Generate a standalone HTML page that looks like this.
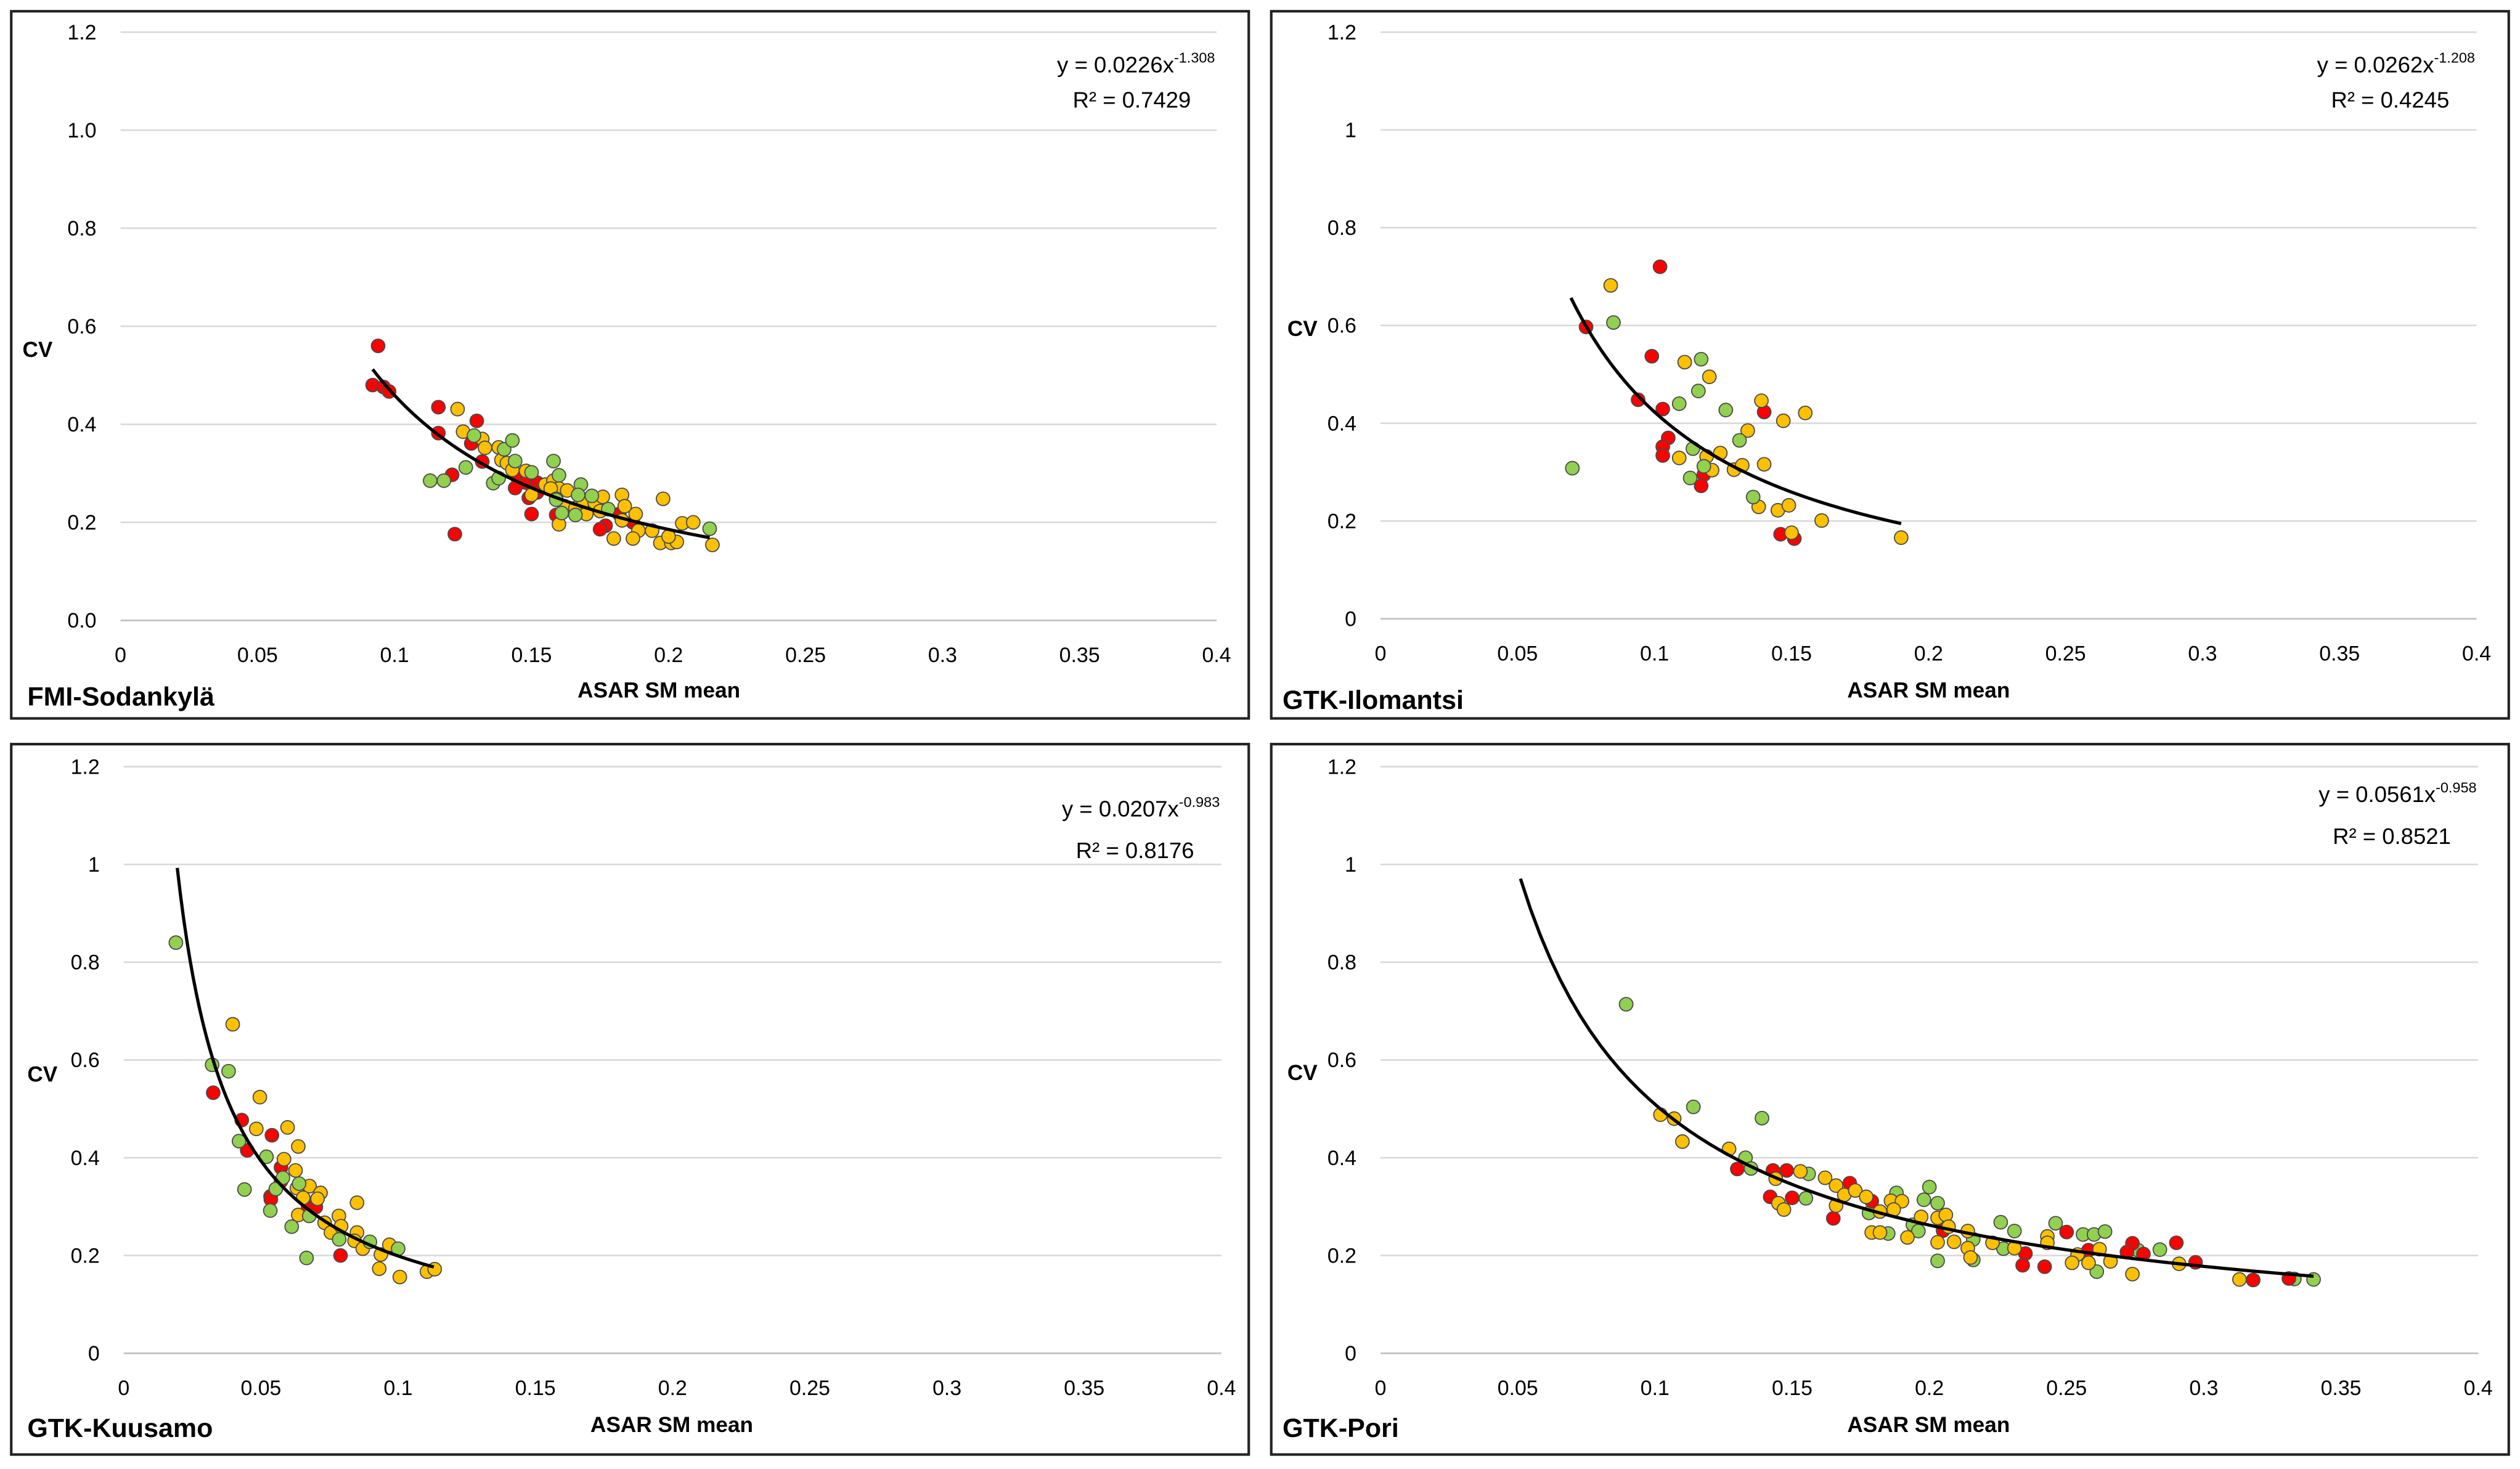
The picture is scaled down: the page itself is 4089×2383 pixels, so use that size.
<!DOCTYPE html>
<html><head><meta charset="utf-8"><style>
html,body{margin:0;padding:0;background:#fff}
svg{display:block}
text{font-family:"Liberation Sans",sans-serif;fill:#000}
</style></head><body>
<svg id="fig" xmlns="http://www.w3.org/2000/svg" width="4089" height="2383" viewBox="0 0 1568 914" preserveAspectRatio="none"></svg>
<script>
// ---------- data ----------
const xTicks = [0,0.05,0.1,0.15,0.2,0.25,0.3,0.35,0.4];
const xTickLabels = ["0","0.05","0.1","0.15","0.2","0.25","0.3","0.35","0.4"];
const yTicks = [0,0.2,0.4,0.6,0.8,1.0,1.2];
const yTickLabelsA = ["0.0","0.2","0.4","0.6","0.8","1.0","1.2"];
const yTickLabelsB = ["0","0.2","0.4","0.6","0.8","1","1.2"];
const siteNames = ["FMI-Sodankylä","GTK-Ilomantsi","GTK-Kuusamo","GTK-Pori"];
const fitA = [0.0226,0.0262,0.0207,0.0561];
const fitB = [-1.308,-1.208,-0.983,-0.958];
const fitR2 = ["0.7429","0.4245","0.8176","0.8521"];
const fitXmin = [0.092,0.0695,0.0195,0.051];
const fitXmax = [0.215,0.19,0.113,0.34];

const p1X = [0.094,0.092,0.096,0.098,0.116,0.130,0.116,0.128,0.132,0.121,0.122,0.145,0.148,0.152,0.144,0.152,0.149,0.150,0.159,0.182,0.177,0.175,0.187,
0.123,0.125,0.132,0.133,0.138,0.139,0.141,0.143,0.148,0.155,0.158,0.160,0.157,0.163,0.159,0.162,0.166,0.169,0.170,0.173,0.176,0.183,0.184,0.188,0.183,0.189,0.180,0.187,0.194,0.198,0.205,0.209,0.197,0.201,0.203,0.200,0.216,0.160,0.175,0.150,
0.113,0.118,0.126,0.129,0.140,0.143,0.144,0.150,0.136,0.138,0.158,0.160,0.168,0.167,0.172,0.166,0.161,0.178,0.215,0.159];
const p1Y = [0.56,0.48,0.476,0.467,0.435,0.407,0.382,0.361,0.324,0.297,0.176,0.29,0.281,0.281,0.27,0.261,0.25,0.217,0.215,0.217,0.193,0.186,0.2,
0.431,0.385,0.37,0.352,0.353,0.327,0.321,0.307,0.305,0.277,0.285,0.269,0.269,0.265,0.248,0.233,0.229,0.242,0.217,0.24,0.252,0.256,0.233,0.217,0.204,0.183,0.167,0.167,0.183,0.248,0.198,0.2,0.158,0.158,0.16,0.171,0.154,0.196,0.223,0.256,
0.285,0.285,0.312,0.377,0.349,0.367,0.325,0.302,0.28,0.29,0.325,0.296,0.277,0.256,0.254,0.215,0.219,0.227,0.187,0.246];
const p1C = "rrrrrrrrrrrrrrrrrrrrrrryyyyyyyyyyyyyyyyyyyyyyyyyyyyyyyyyyyyyyyyggggggggggggggggggggg";

const p2X = [0.102,0.075,0.099,0.094,0.103,0.140,0.105,0.103,0.103,0.118,0.117,0.146,0.151,
0.084,0.111,0.120,0.139,0.155,0.147,0.134,0.109,0.119,0.124,0.121,0.129,0.132,0.140,0.138,0.145,0.149,0.161,0.150,0.190,
0.085,0.117,0.116,0.109,0.126,0.131,0.114,0.118,0.113,0.136,0.070];
const p2Y = [0.72,0.597,0.537,0.448,0.429,0.423,0.37,0.352,0.334,0.295,0.272,0.173,0.164,
0.682,0.525,0.495,0.446,0.421,0.405,0.385,0.329,0.332,0.339,0.304,0.305,0.314,0.316,0.229,0.222,0.232,0.201,0.176,0.166,
0.606,0.531,0.466,0.44,0.427,0.365,0.348,0.312,0.288,0.249,0.308];
const p2C = "rrrrrrrrrrrrryyyyyyyyyyyyyyyyyyyyggggggggggg";

const p3X = [0.0326,0.043,0.045,0.054,0.0573,0.0573,0.0535,0.0536,0.0672,0.070,0.079,
0.0397,0.0496,0.0483,0.0597,0.0636,0.0584,0.0626,0.0631,0.0677,0.0717,0.0654,0.0706,0.0636,0.0732,0.0784,0.0755,0.0792,0.085,0.085,0.0841,0.0871,0.0937,0.0968,0.0931,0.1006,0.1105,0.1133,
0.0322,0.0382,0.042,0.052,0.058,0.044,0.0554,0.0534,0.0612,0.0676,0.0785,0.0897,0.100,0.0666,0.0639,0.019];
const p3Y = [0.533,0.477,0.415,0.446,0.38,0.352,0.321,0.315,0.299,0.299,0.2,
0.673,0.524,0.459,0.462,0.423,0.397,0.374,0.338,0.342,0.328,0.318,0.316,0.283,0.267,0.281,0.247,0.26,0.308,0.247,0.23,0.214,0.202,0.222,0.173,0.156,0.167,0.172,
0.59,0.577,0.434,0.402,0.359,0.335,0.336,0.292,0.259,0.281,0.233,0.228,0.214,0.195,0.347,0.84];
const p3C = "rrrrrrrrrrryyyyyyyyyyyyyyyyyyyyyyyyyyygggggggggggggggg";

const p4X = [0.0895,0.114,0.139,0.133,0.135,0.156,0.155,0.188,0.200,0.198,0.203,0.178,0.194,0.196,0.185,0.226,0.231,0.246,0.256,0.260,0.264,0.203,0.216,0.227,0.261,0.284,0.276,0.340,0.333,0.216,
0.130,0.143,0.148,0.171,0.142,0.150,0.179,0.165,0.205,0.235,0.234,0.242,0.250,0.258,0.274,0.272,0.278,0.290,0.297,0.318,0.331,
0.102,0.107,0.110,0.127,0.144,0.153,0.162,0.166,0.169,0.173,0.177,0.166,0.145,0.147,0.186,0.190,0.187,0.182,0.197,0.203,0.206,0.207,0.179,0.182,0.192,0.203,0.209,0.214,0.214,0.215,0.223,0.231,0.243,0.243,0.254,0.252,0.258,0.262,0.266,0.274,0.291,0.313];
const p4Y = [0.714,0.504,0.481,0.4,0.378,0.367,0.317,0.328,0.34,0.314,0.307,0.287,0.263,0.25,0.245,0.268,0.25,0.266,0.243,0.243,0.249,0.189,0.191,0.214,0.167,0.212,0.211,0.151,0.152,0.233,
0.377,0.374,0.374,0.348,0.32,0.318,0.311,0.276,0.251,0.204,0.18,0.177,0.248,0.211,0.225,0.207,0.203,0.226,0.186,0.15,0.153,
0.488,0.48,0.433,0.418,0.357,0.372,0.359,0.343,0.324,0.333,0.32,0.302,0.307,0.294,0.312,0.311,0.294,0.29,0.279,0.277,0.283,0.259,0.247,0.247,0.237,0.227,0.228,0.25,0.215,0.196,0.226,0.215,0.239,0.226,0.202,0.185,0.185,0.213,0.188,0.162,0.183,0.151];
const p4C = "ggggggggggggggggggggggggggggggrrrrrrrrrrrrrrrrrrrrryyyyyyyyyyyyyyyyyyyyyyyyyyyyyyyyyyyyyyyyyyyy";

// ---------- layout ----------
const panels = [
 {bx:7,by:7,bw:770,bh:440,x0:75,x1:757,y0:386,y1:20,yl:yTickLabelsA,cv:[14,222],ti:[410,434],si:[17,439],eq:[757,741,45,67]},
 {bx:791,by:7,bw:770,bh:440,x0:859,x1:1541,y0:385,y1:20,yl:yTickLabelsB,cv:[801,209],ti:[1200,434],si:[798,441],eq:[1541,1524,45,67]},
 {bx:7,by:463,bw:770,bh:442,x0:77,x1:760,y0:842,y1:477,yl:yTickLabelsB,cv:[17,673],ti:[418,891],si:[17,894],eq:[760,743,508,534]},
 {bx:791,by:463,bw:770,bh:442,x0:859,x1:1542,y0:842,y1:477,yl:yTickLabelsB,cv:[801,672],ti:[1200,891],si:[798,894],eq:[1542,1525,499,525]}
];
const datasets = [[p1X,p1Y,p1C],[p2X,p2Y,p2C],[p3X,p3Y,p3C],[p4X,p4Y,p4C]];
const colorMap = {r:"#FF0000",y:"#FFC000",g:"#92D050"};
const NS = "http://www.w3.org/2000/svg";
const svg = document.getElementById('fig');
function mk(tag, attrs, parent){const e=document.createElementNS(NS,tag);for(const k in attrs)e.setAttribute(k,attrs[k]);(parent||svg).appendChild(e);return e;}

panels.forEach((P,i)=>{
  const g = mk('g',{});
  
  
  const sx = v => P.x0 + (v/0.4)*(P.x1-P.x0);
  const sy = v => P.y0 + (v/1.2)*(P.y1-P.y0);
  const frame = mk('rect',{x:P.bx,y:P.by,width:P.bw,height:P.bh,fill:'#fff',stroke:'#222','stroke-width':1.6},g);
  
  
  yTicks.forEach((t,k)=>{
    const gl = mk('line',{x1:P.x0,x2:P.x1,y1:sy(t),y2:sy(t),stroke:k===0?'#bfbfbf':'#d9d9d9','stroke-width':1},g);
    
    
    const tl = mk('text',{x:P.x0-15,y:sy(t)+4.5,'text-anchor':'end','font-size':13},g);
    tl.textContent = P.yl[k];
    
    
  });
  xTicks.forEach((t,k)=>{
    const tl = mk('text',{x:sx(t),y:P.y0+26,'text-anchor':'middle','font-size':13},g);
    tl.textContent = xTickLabels[k];
    
    
  });
  const [X,Y,C] = datasets[i];
  X.forEach((xv,k)=>{
    const c = mk('circle',{cx:sx(xv),cy:sy(Y[k]),r:4.2,fill:colorMap[C[k]],stroke:'#4a4a4a','stroke-width':0.7},g);
    
    
  });
  let d='';
  for(let s=0;s<=80;s++){const xv=fitXmin[i]+(fitXmax[i]-fitXmin[i])*s/80;const yv=fitA[i]*Math.pow(xv,fitB[i]);d+=(s?'L':'M')+sx(xv).toFixed(2)+','+sy(yv).toFixed(2);}
  const fl = mk('path',{d:d,fill:'none',stroke:'#000','stroke-width':2},g);
  
  
  const e1 = mk('text',{x:P.eq[0]-1,y:P.eq[2],'text-anchor':'end','font-size':14},g);
  
  
  e1.appendChild(document.createTextNode('y = '+fitA[i]+'x'));
  const sup = mk('tspan',{'font-size':9,dy:-6},e1);
  sup.textContent = String(fitB[i]);
  const e2 = mk('text',{x:P.eq[1],y:P.eq[3],'text-anchor':'end','font-size':14},g);
  e2.textContent = 'R² = '+fitR2[i];
  
  
  const cv = mk('text',{x:P.cv[0],y:P.cv[1],'font-size':13.5,'font-weight':'bold'},g);
  cv.textContent='CV';
  
  
  const ti = mk('text',{x:P.ti[0],y:P.ti[1],'text-anchor':'middle','font-size':13.5,'font-weight':'bold'},g);
  ti.textContent='ASAR SM mean';
  
  
  const si = mk('text',{x:P.si[0],y:P.si[1],'font-size':16.5,'font-weight':'bold'},g);
  si.textContent=siteNames[i];
  
  
});
</script>
</body></html>
